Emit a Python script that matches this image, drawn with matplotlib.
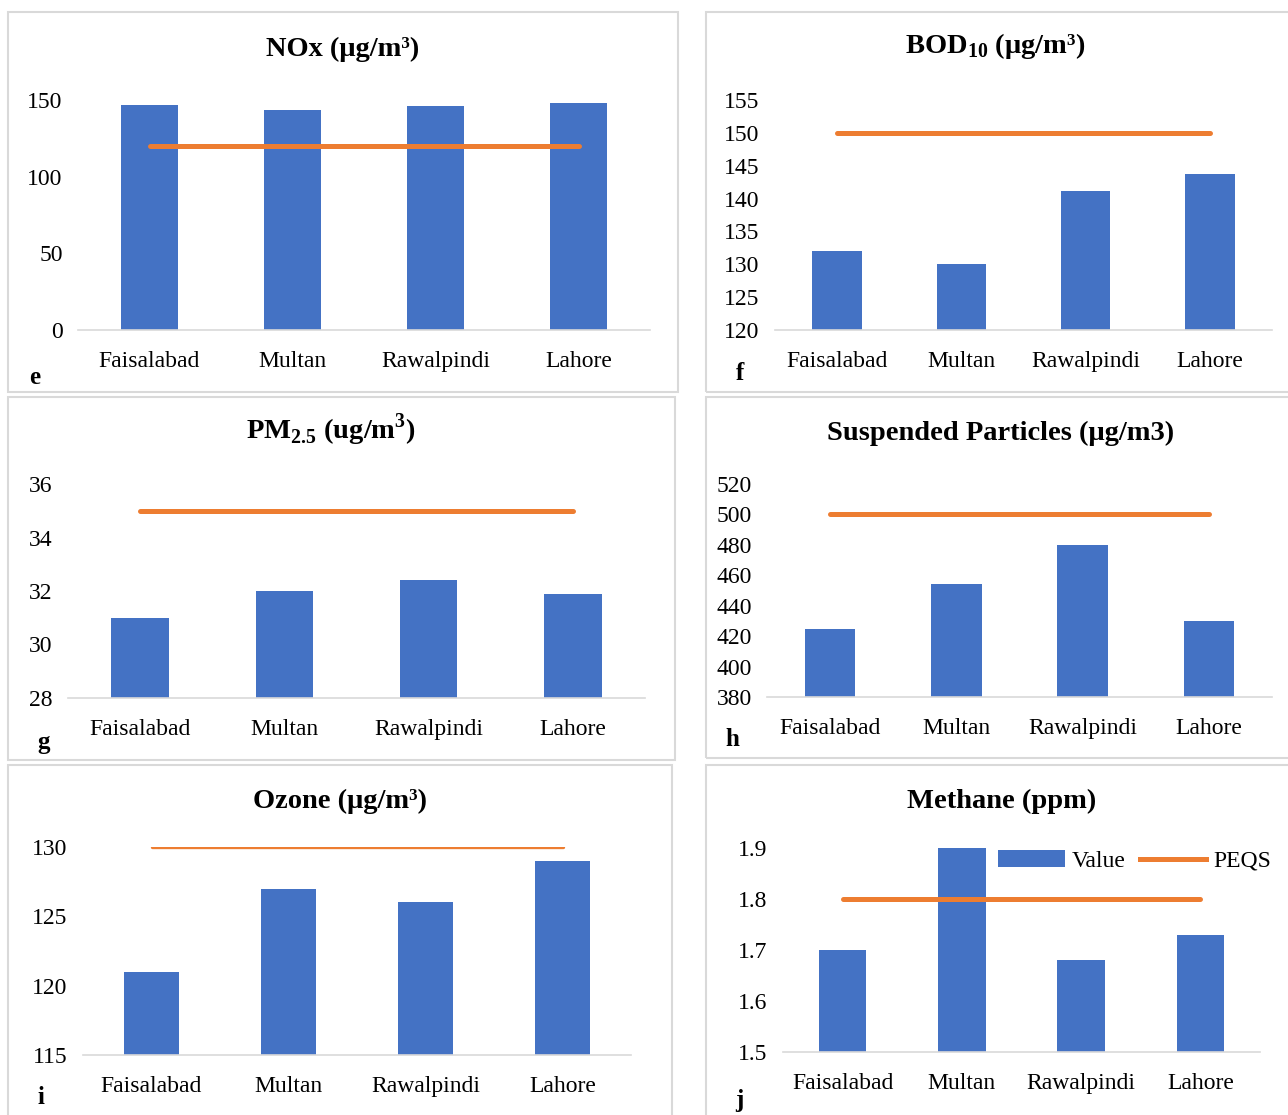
import matplotlib.pyplot as plt
from matplotlib.patches import Rectangle
from matplotlib.lines import Line2D
from matplotlib.patches import Patch

plt.rcParams['font.family'] = ['Liberation Serif', 'DejaVu Serif']
plt.rcParams['mathtext.fontset'] = 'custom'
plt.rcParams['mathtext.rm'] = 'Liberation Serif'
plt.rcParams['mathtext.bf'] = 'Liberation Serif:bold'

# Daten
cities = ['Faisalabad', 'Multan', 'Rawalpindi', 'Lahore']

nox = [147, 143.5, 146, 148]
nox_peqs = [120, 120, 120, 120]
bod = [132, 130, 141.2, 143.8]
bod_peqs = [150, 150, 150, 150]
pm25 = [31, 32, 32.4, 31.9]
pm25_peqs = [35, 35, 35, 35]
spm = [425, 454, 480, 430]
spm_peqs = [500, 500, 500, 500]
ozone = [121, 127, 126, 129]
ozone_peqs = [130, 130, 130, 130]
methane = [1.70, 1.90, 1.68, 1.73]
methane_peqs = [1.8, 1.8, 1.8, 1.8]

nox_ticks = [0, 50, 100, 150]
bod_ticks = [120, 125, 130, 135, 140, 145, 150, 155]
pm25_ticks = [28, 30, 32, 34, 36]
spm_ticks = [380, 400, 420, 440, 460, 480, 500, 520]
ozone_ticks = [115, 120, 125, 130]
methane_ticks = [1.5, 1.6, 1.7, 1.8, 1.9]
methane_labels = ['1.5', '1.6', '1.7', '1.8', '1.9']

BLUE = '#4472C4'
ORANGE = '#ED7D31'
GRID = '#d9d9d9'

W, H = 1288, 1115
fig = plt.figure(figsize=(W / 100, H / 100), dpi=100)


def box(x0, y0, x1, y1):
    fig.patches.append(Rectangle((x0 / W, 1 - y1 / H), (x1 - x0) / W, (y1 - y0) / H,
                                 transform=fig.transFigure, fill=False,
                                 edgecolor=GRID, linewidth=1.5))


def panel(l, r, bottom, top, values, peqs, ticks, ylim, lw=3.6, labels=None):
    ax = fig.add_axes([l / W, 1 - bottom / H, (r - l) / W, (bottom - top) / H])
    x = range(len(cities))
    ax.bar(x, values, width=0.4, color=BLUE, zorder=2, label='Value')
    ax.plot(x, peqs, color=ORANGE, linewidth=lw, solid_capstyle='round', zorder=3, label='PEQS')
    ax.set_xlim(-0.5, 3.5)
    ax.set_ylim(*ylim)
    ax.set_yticks(ticks)
    if labels is not None:
        ax.set_yticklabels(labels)
    ax.set_xticks(list(x))
    ax.set_xticklabels(cities)
    for s in ['top', 'right', 'left']:
        ax.spines[s].set_visible(False)
    ax.spines['bottom'].set_color(GRID)
    ax.spines['bottom'].set_linewidth(1.2)
    ax.tick_params(axis='y', length=0, pad=11, labelsize=17)
    ax.tick_params(axis='x', length=0, pad=15, labelsize=17)
    ax.patch.set_alpha(0)
    return ax


# Rahmen
box(8, 12, 678, 392)
box(706, 12, 1295, 392)
box(8, 397, 675, 760)
box(706, 397, 1295, 758)
box(8, 765, 672, 1125)
box(706, 765, 1295, 1125)

panel(78, 650, 330, 100, nox, nox_peqs, nox_ticks, (0, 150))
panel(775, 1272, 330, 100, bod, bod_peqs, bod_ticks, (120, 155))
panel(68, 645, 698, 484, pm25, pm25_peqs, pm25_ticks, (28, 36))
panel(767, 1272, 697, 484, spm, spm_peqs, spm_ticks, (380, 520))
panel(83, 631, 1055, 847, ozone, ozone_peqs, ozone_ticks, (115, 130), lw=2.4)
ax_j = panel(783, 1260, 1052, 848, methane, methane_peqs, methane_ticks, (1.5, 1.9),
             labels=methane_labels)

# Titel
titles = [
    ('NOx (μg/m³)', 343, 49),
    (r'BOD$_{\mathbf{10}}$ (μg/m³)', 995, 46),
    (r'PM$_{\mathbf{2.5}}$ (ug/m$^{\mathbf{3}}$)', 331, 430),
    ('Suspended Particles (μg/m3)', 1001, 433),
    ('Ozone (μg/m³)', 340, 801),
    ('Methane (ppm)', 1002, 801),
]
for t, x, y in titles:
    fig.text(x / W, 1 - y / H, t, ha='center', va='center', fontsize=20.5, fontweight='bold')

# Buchstaben
letters = [('e', 35, 378), ('f', 740, 373), ('g', 44, 743), ('h', 732, 739),
           ('i', 41, 1097), ('j', 739, 1101)]
for t, x, y in letters:
    fig.text(x / W, 1 - y / H, t, ha='center', va='center', fontsize=18, fontweight='bold')

# Legende
handles = [Patch(facecolor=BLUE), Line2D([0], [0], color=ORANGE, linewidth=3.6)]
fig.legend(handles, ['Value', 'PEQS'], loc='center right',
           bbox_to_anchor=(1292 / W, 1 - 861 / H), ncol=2, frameon=False,
           fontsize=17, handlelength=2.8, handletextpad=0.3, columnspacing=0.6)

plt.savefig('out.png', dpi=100)
